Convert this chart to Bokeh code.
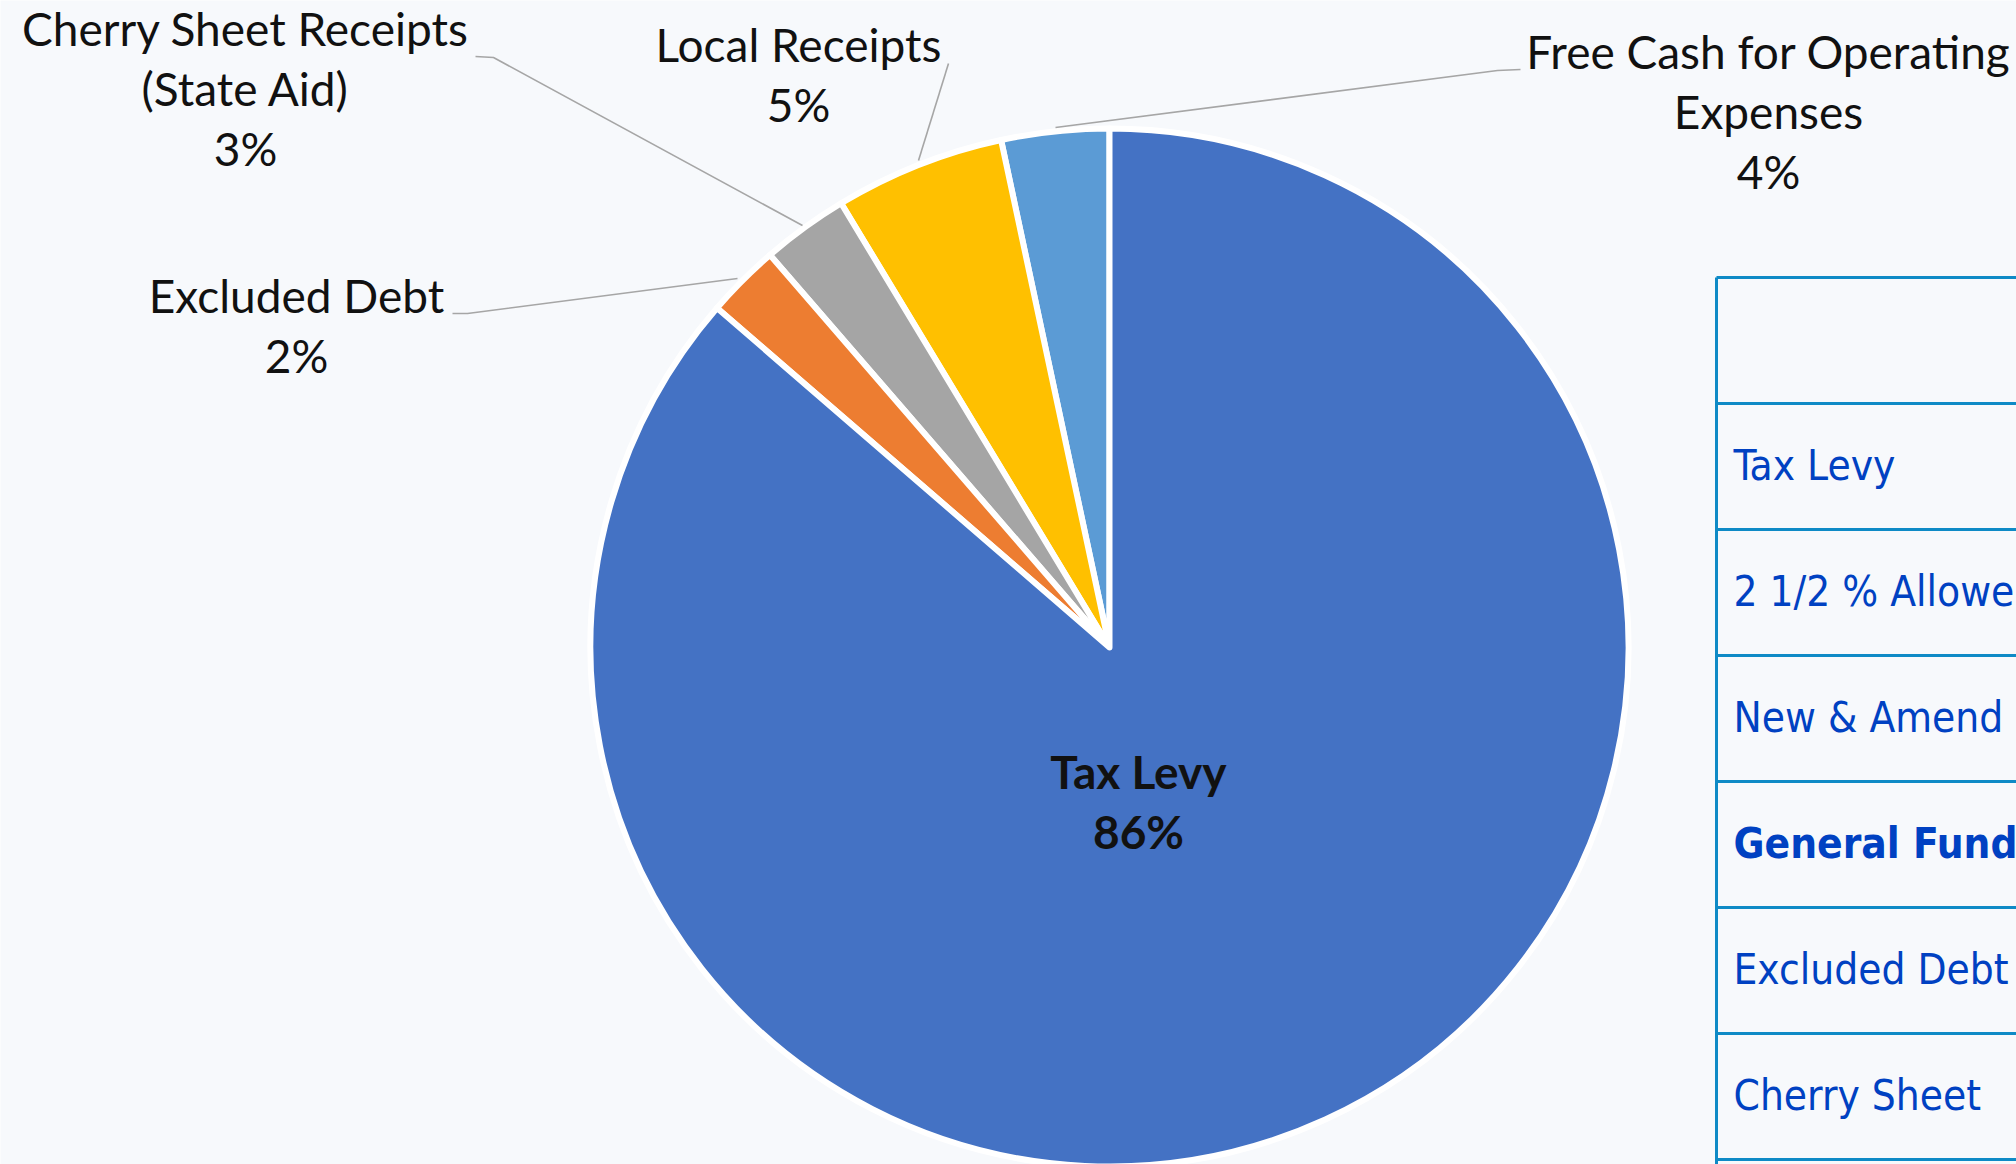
import numpy as np
from bokeh.plotting import figure
from bokeh.models import Range1d
from bokeh.core.properties import value
from bokeh.embed import file_html
from bokeh.resources import INLINE

# ---- data (slices listed counter-clockwise from 12 o'clock) ----
categories = ["Free Cash for Operating\nExpenses", "Local Receipts",
              "Cherry Sheet Receipts\n(State Aid)", "Excluded Debt", "Tax Levy"]
shares = [3.35, 5.3, 2.7, 2.3, 86.35]
pct_labels = ["4%", "5%", "3%", "2%", "86%"]
colors = ["#5B9BD5", "#FFC000", "#A5A5A5", "#ED7D31", "#4472C4"]

# table rows as far as they are visible at the page edge
table_rows = ["", "Tax Levy", "2 1/2 % Allowe", "New & Amend",
              "General Fund", "Excluded Debt", "Cherry Sheet", ""]
table_bold = [False, False, False, False, True, False, False, False]

# ---- layout (page pixel coordinates) ----
PW, PH = 2016, 1164
BG = "#F7F9FC"


def Y(py):
    return PH - py


p = figure(width=PW, height=PH, output_backend="svg", toolbar_location=None,
           x_range=Range1d(0, PW), y_range=Range1d(0, PH), min_border=0,
           background_fill_color=BG, border_fill_color=BG, outline_line_color=None)
p.axis.visible = False
p.grid.visible = False

# pie
cx, cy, R = 1109, Y(647), 519
fr = np.array(shares) / np.sum(shares)
ends = np.pi / 2 + 2 * np.pi * np.cumsum(fr)
starts = ends - 2 * np.pi * fr
p.wedge(x=cx, y=cy, radius=R, radius_units="screen",
        start_angle=list(starts), end_angle=list(ends),
        fill_color=colors, line_color="white", line_width=6, line_join="round")

# leader lines
leaders = [
    [(1520, 69), (1497, 70), (1055, 127)],
    [(948, 63), (918, 160)],
    [(475, 56), (493, 57), (802, 225)],
    [(452, 313), (467, 313), (737, 278)],
]
p.multi_line(xs=[[a for a, b in L] for L in leaders],
             ys=[[Y(b) for a, b in L] for L in leaders],
             line_color="#A6A6A6", line_width=1.6)

# data labels
anchors = [(1768, 51), (798, 44), (245, 28), (296, 295), (1138, 771)]
LS = 60
for i, (name, pct) in enumerate(zip(categories, pct_labels)):
    lines = name.split("\n") + [pct]
    ax, ay = anchors[i]
    bold = categories[i] == "Tax Levy"
    p.text(x=[ax] * len(lines), y=[Y(ay + k * LS) for k in range(len(lines))], text=lines,
           text_font=value("Lato"), text_font_size="46px", text_color="#111111",
           text_align="center", text_baseline="alphabetic",
           text_font_style="bold" if bold else "normal")

# table (cut by the page edge)
TX, TT, RH = 1716, 277, 126
TCOL = "#0E8AC6"
ny = len(table_rows)
p.segment(x0=[TX] * ny, x1=[PW + 20] * ny,
          y0=[Y(TT + i * RH) for i in range(ny)], y1=[Y(TT + i * RH) for i in range(ny)],
          line_color=TCOL, line_width=3)
p.segment(x0=[TX], x1=[TX], y0=[Y(TT)], y1=[Y(PH + 20)], line_color=TCOL, line_width=3)
for i, (t, b) in enumerate(zip(table_rows, table_bold)):
    if not t:
        continue
    p.text(x=[1733], y=[Y(TT + (i + 0.5) * RH - 1)], text=[t],
           text_font=value("DejaVu Sans Condensed"),
           text_font_size="42px", text_color="#0041C2",
           text_font_style="bold" if b else "normal",
           text_align="left", text_baseline="alphabetic")

open("out.html", "w").write(file_html(p, INLINE))
